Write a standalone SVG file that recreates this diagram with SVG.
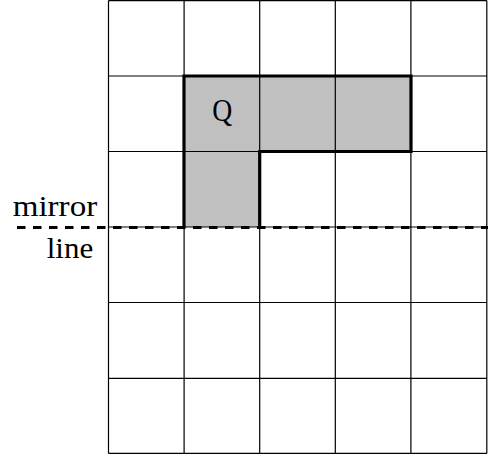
<svg xmlns="http://www.w3.org/2000/svg" width="488" height="454" viewBox="0 0 488 454">
<style>
.grid{stroke:#000;stroke-width:1.2;fill:none}
.shape{fill:#c0c0c0;stroke:none}
.outline{fill:none;stroke:#000;stroke-width:3.2;stroke-linejoin:miter}
.mirror{stroke:#000;stroke-width:3.2;stroke-dasharray:8.5 7.5}
text{font-family:"Liberation Serif","Times New Roman",serif;fill:#000}
</style>
<g id="shape-Q">
<path class="shape" d="M184,76 H411 V151.5 H259.7 V227 H184 Z"/>
</g>
<g id="grid">
<path class="grid" d="M108.5,0.5 V453.5 M184.1,0.5 V453.5 M259.7,0.5 V453.5 M335.3,0.5 V453.5 M410.9,0.5 V453.5 M486.8,0.5 V453.5 M108.5,0.6 H486.8 M108.5,76 H486.8 M108.5,151.5 H486.8 M108.5,227 H486.8 M108.5,302.5 H486.8 M108.5,378.3 H486.8 M108.5,453.4 H486.8"/>
</g>
<g id="shape-outline">
<path class="outline" d="M184,227 V76 H411 V151.5 H259.7 V227"/>
<text x="212.3" y="120.5" font-size="32" textLength="20" lengthAdjust="spacingAndGlyphs">Q</text>
</g>
<g id="connectors">
<line class="mirror" x1="17" y1="227.5" x2="488" y2="227.5"/>
</g>
<g id="label-mirror">
<text x="12.7" y="215.7" font-size="30" textLength="84.5" lengthAdjust="spacingAndGlyphs">mirror</text>
</g>
<g id="label-line">
<text x="46.7" y="258.3" font-size="30" textLength="46.5" lengthAdjust="spacingAndGlyphs">line</text>
</g>
</svg>
